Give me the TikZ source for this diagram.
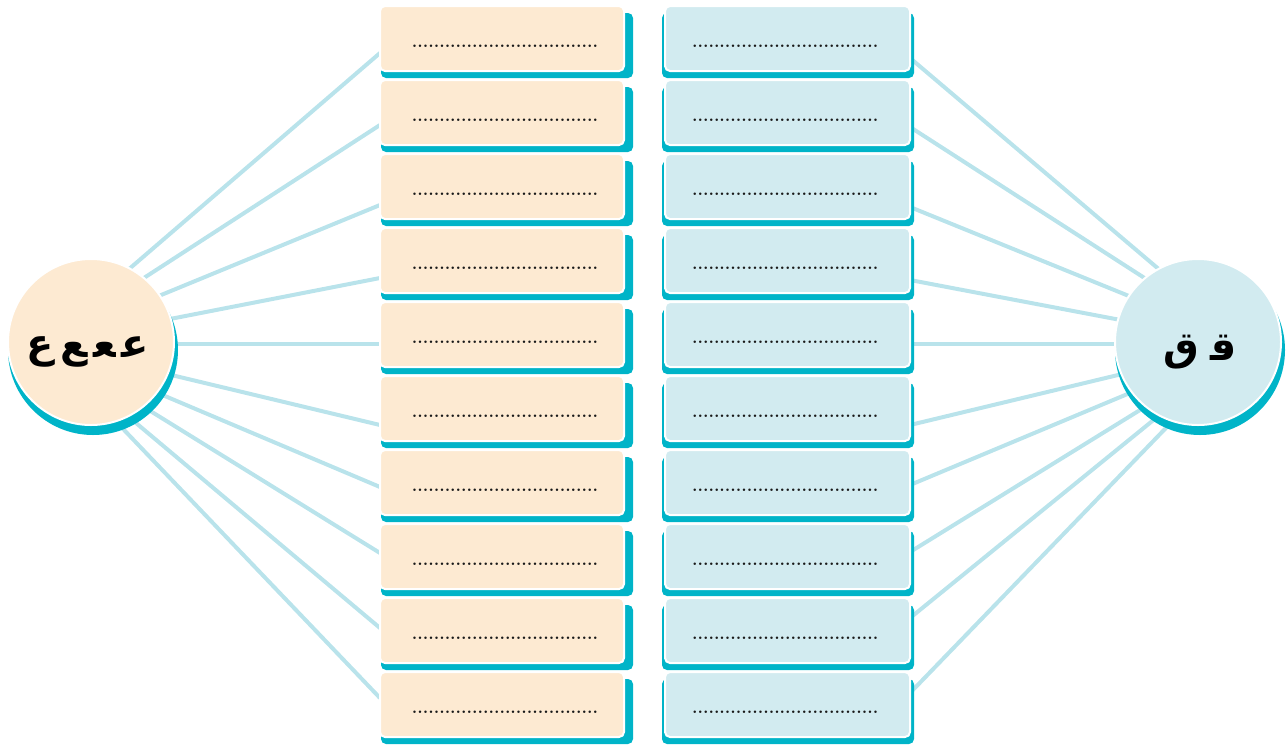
\documentclass[tikz,border=0pt]{standalone}
\usepackage{fontspec}
\usetikzlibrary{backgrounds,calc}
\newfontfamily\arabicfont[Script=Arabic]{DejaVu Sans}
\TeXXeTstate=1
\definecolor{peach}{HTML}{FDEAD2}
\definecolor{paleblue}{HTML}{D2EBF0}
\definecolor{shadowteal}{HTML}{00B4C8}
\definecolor{raycol}{HTML}{B9E3EB}
\newcommand\dotten{..........}
\newcommand\dotrow{\dotten\dotten\dotten....}
\tikzset{
 face/.style={rectangle, rounded corners=5pt, draw=white, line width=2pt, minimum height=65pt, inner sep=0pt, outer sep=0pt},
 lface/.style={face, fill=peach, minimum width=244pt},
 rface/.style={face, fill=paleblue, minimum width=245pt},
 dotline/.style={font=\bfseries\fontsize{17.5}{18}\selectfont, inner sep=0pt, text=black!90},
 ray/.style={draw=raycol, line width=4pt},
 boxshadow/.style={fill=shadowteal, rounded corners=5pt},
 disc/.style={circle, draw=white, line width=2pt, minimum size=166pt, inner sep=0pt, outer sep=0pt},
 arabictext/.style={inner sep=0pt, font=\arabicfont\bfseries\fontsize{40}{44}\selectfont},
}
\begin{document}
\begin{tikzpicture}[x=1pt,y=-1pt]
\useasboundingbox (0,0) rectangle (1287,745);
\node[disc, fill=peach] (cl) at (91,342) {};
\node[disc, fill=paleblue] (cr) at (1198,342) {};
\node[arabictext] (tl) at (88,352) {\beginR ع^^^^200d\hspace{6pt}^^^^200dع^^^^200d\hspace{6pt}^^^^200dع\hspace{6pt}ع\endR};
\node[arabictext] (tr) at (1200,352) {\beginR ق^^^^200d\hspace{12pt}ق\endR};
\coordinate (fl) at (42,344);
\coordinate (fr) at (1247,344);
\foreach \i in {0,...,9} {
  \node[lface] (l\i) at (502,{38.5+74*\i}) {};
  \node[rface] (r\i) at (787.5,{38.5+74*\i}) {};
  \node[dotline] (dl\i) at ($(l\i.center)+(3,7.5)$) {\dotrow};
  \node[dotline] (dr\i) at ($(r\i.center)+(-2.3,7.5)$) {\dotrow};
}
\begin{scope}[on background layer]
 \foreach \i/\y in {0/53,1/125,2/205,3/278,4/344,5/425,6/487,7/553,8/628,9/698}
   \draw[ray] (fl) -- (l\i.west |- 0,\y);
 \foreach \i/\y in {0/58,1/127,2/207,3/280,4/344,5/425,6/485,7/552,8/618,9/693}
   \draw[ray] (r\i.east |- 0,\y) -- (fr);
 \foreach \i in {0,...,9} {
   \fill[boxshadow] ($(l\i.north west)+(1,7)$) rectangle ($(l\i.south east)+(9,7)$);
   \fill[boxshadow] ($(r\i.north west)+(-3,7)$) rectangle ($(r\i.south east)+(4,7)$);
 }
 \fill[shadowteal] ($(cl.center)+(2,8)$) circle[radius=85pt];
 \fill[shadowteal] ($(cr.center)+(2,8)$) circle[radius=85pt];
\end{scope}
\end{tikzpicture}
\end{document}
